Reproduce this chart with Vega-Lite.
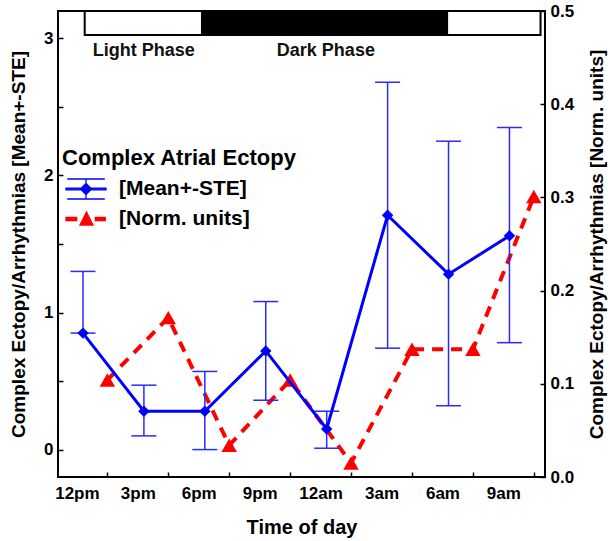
{
  "$schema": "https://vega.github.io/schema/vega-lite/v6.json",
  "width": 487,
  "height": 466,
  "autosize": {"type": "none"},
  "padding": {"left": 58, "top": 11, "right": 65, "bottom": 64},
  "background": "white",
  "datasets": {
    "blue": [
      {"hour": 0.3, "mean": 0.85, "lo": 0.85, "hi": 1.30, "series": "[Mean+-STE]"},
      {"hour": 3.3, "mean": 0.28, "lo": 0.10, "hi": 0.47, "series": "[Mean+-STE]"},
      {"hour": 6.3, "mean": 0.28, "lo": 0.0, "hi": 0.57, "series": "[Mean+-STE]"},
      {"hour": 9.3, "mean": 0.72, "lo": 0.36, "hi": 1.08, "series": "[Mean+-STE]"},
      {"hour": 12.3, "mean": 0.15, "lo": 0.01, "hi": 0.28, "series": "[Mean+-STE]"},
      {"hour": 15.3, "mean": 1.71, "lo": 0.74, "hi": 2.68, "series": "[Mean+-STE]"},
      {"hour": 18.3, "mean": 1.28, "lo": 0.32, "hi": 2.25, "series": "[Mean+-STE]"},
      {"hour": 21.3, "mean": 1.56, "lo": 0.78, "hi": 2.35, "series": "[Mean+-STE]"}
    ],
    "red": [
      {"hour": 1.5, "value": 0.104, "series": "[Norm. units]"},
      {"hour": 4.5, "value": 0.171, "series": "[Norm. units]"},
      {"hour": 7.5, "value": 0.034, "series": "[Norm. units]"},
      {"hour": 10.5, "value": 0.104, "series": "[Norm. units]"},
      {"hour": 13.5, "value": 0.015, "series": "[Norm. units]"},
      {"hour": 16.5, "value": 0.137, "series": "[Norm. units]"},
      {"hour": 19.5, "value": 0.137, "series": "[Norm. units]"},
      {"hour": 22.5, "value": 0.301, "series": "[Norm. units]"}
    ],
    "phase": [
      {"start": 0.385, "end": 6.16, "phase": "light"},
      {"start": 6.16, "end": 18.23, "phase": "dark"},
      {"start": 18.23, "end": 22.83, "phase": "light"}
    ],
    "phaselabels": [
      {"hour": 3.29, "text": "Light Phase"},
      {"hour": 12.26, "text": "Dark Phase"}
    ]
  },
  "layer": [
    {
      "data": {"name": "red"},
      "layer": [
        {
          "mark": {"type": "line", "strokeWidth": 4, "strokeDash": [11, 8], "strokeCap": "butt"},
          "encoding": {
            "x": {
              "field": "hour", "type": "quantitative",
              "scale": {"domain": [-0.93, 23.05], "nice": false, "zero": false},
              "axis": {"orient": "top", "values": [1.5, 4.5, 7.5, 10.5, 13.5, 16.5, 19.5, 22.5], "labels": false, "title": null, "tickSize": -5}
            },
            "y": {
              "field": "value", "type": "quantitative",
              "scale": {"domain": [0, 0.5], "nice": false, "zero": false},
              "axis": {"orient": "right", "values": [0, 0.1, 0.2, 0.3, 0.4, 0.5], "format": ".1f", "title": "Complex Ectopy/Arrhythmias [Norm. units]", "titleAngle": 270, "labelPadding": 10, "titlePadding": 33}
            },
            "color": {
              "field": "series", "type": "nominal",
              "scale": {"domain": ["[Mean+-STE]", "[Norm. units]"], "range": ["#0000ff", "#ff0000"]},
              "legend": {
                "orient": "none", "legendX": 4, "legendY": 137,
                "title": "Complex Atrial Ectopy", "titleLimit": 400,
                "titleFont": "Liberation Sans", "titleFontSize": 22, "titleFontWeight": "bold", "titleColor": "#000", "titlePadding": 8,
                "labelFont": "Liberation Sans", "labelFontSize": 21, "labelFontWeight": "bold", "labelColor": "#000", "labelLimit": 400,
                "symbolSize": 400, "symbolOffset": 13, "labelOffset": 22, "rowPadding": 6,
                "encode": {
                  "symbols": {
                    "update": {
                      "shape": {"signal": "datum.value === '[Mean+-STE]' ? 'M-2,-0.08H2V0.08H-2ZM-1.88,-1H1.88M-1.88,1H1.88M0,-1V1M0,-0.55L0.55,0L0,0.55L-0.55,0Z' : 'M-2,-0.16H-0.93V0.16H-2ZM0.93,-0.16H1.93V0.16H0.93ZM0.05,-0.7L0.7,0.6H-0.6Z'"},
                      "fill": {"signal": "datum.value === '[Mean+-STE]' ? '#0000ff' : '#ff0000'"},
                      "stroke": {"signal": "datum.value === '[Mean+-STE]' ? '#0000ff' : '#ff0000'"},
                      "strokeWidth": {"value": 1.3},
                      "strokeDash": {"value": []},
                      "opacity": {"value": 1}
                    }
                  }
                }
              }
            }
          }
        },
        {
          "mark": {"type": "point", "shape": "triangle-up", "size": 240, "filled": true, "color": "#ff0000", "opacity": 1},
          "encoding": {
            "x": {"field": "hour", "type": "quantitative"},
            "y": {"field": "value", "type": "quantitative"}
          }
        }
      ]
    },
    {
      "layer": [
        {
          "data": {"name": "phase"},
          "mark": {"type": "rect", "stroke": "#000", "strokeWidth": 2},
          "encoding": {
            "x": {
              "field": "start", "type": "quantitative",
              "scale": {"domain": [-0.93, 23.05], "nice": false, "zero": false},
              "axis": {
                "orient": "bottom", "values": [1.5, 4.5, 7.5, 10.5, 13.5, 16.5, 19.5, 22.5],
                "labelExpr": "['12pm','3pm','6pm','9pm','12am','3am','6am','9am'][round((datum.value-1.5)/3)]",
                "labelOffset": -30.45, "labelPadding": 13, "tickSize": -5,
                "title": "Time of day", "titleFontSize": 20, "titlePadding": 16
              }
            },
            "x2": {"field": "end"},
            "y": {"datum": 3.025, "type": "quantitative",
              "scale": {"domain": [-0.2, 3.2], "nice": false, "zero": false},
              "axis": {
                "orient": "left", "values": [0, 0.5, 1, 1.5, 2, 2.5, 3], "format": ".0f",
                "labelExpr": "datum.value % 1 === 0 ? datum.label : ''",
                "labelPadding": 10, "title": "Complex Ectopy/Arrhythmias [Mean+-STE]", "titlePadding": 15
              }
            },
            "y2": {"datum": 3.2},
            "fill": {"field": "phase", "type": "nominal", "scale": {"domain": ["light", "dark"], "range": ["#ffffff", "#000000"]}, "legend": null}
          }
        },
        {
          "data": {"name": "phaselabels"},
          "mark": {"type": "text", "font": "Liberation Sans", "fontSize": 18, "fontWeight": "bold", "color": "#111", "align": "center", "baseline": "middle"},
          "encoding": {
            "x": {"field": "hour", "type": "quantitative"},
            "y": {"datum": 2.91, "type": "quantitative"},
            "text": {"field": "text"}
          }
        },
        {
          "data": {"name": "blue"},
          "mark": {"type": "rule", "color": "#2a2aff", "strokeWidth": 1.5},
          "encoding": {
            "x": {"field": "hour", "type": "quantitative"},
            "y": {"field": "lo", "type": "quantitative"},
            "y2": {"field": "hi"}
          }
        },
        {
          "data": {"name": "blue"},
          "mark": {"type": "tick", "orient": "horizontal", "color": "#2a2aff", "size": 25, "thickness": 1.5, "opacity": 1},
          "encoding": {
            "x": {"field": "hour", "type": "quantitative"},
            "y": {"field": "lo", "type": "quantitative"}
          }
        },
        {
          "data": {"name": "blue"},
          "mark": {"type": "tick", "orient": "horizontal", "color": "#2a2aff", "size": 25, "thickness": 1.5, "opacity": 1},
          "encoding": {
            "x": {"field": "hour", "type": "quantitative"},
            "y": {"field": "hi", "type": "quantitative"}
          }
        },
        {
          "data": {"name": "blue"},
          "mark": {"type": "line", "strokeWidth": 3},
          "encoding": {
            "x": {"field": "hour", "type": "quantitative"},
            "y": {"field": "mean", "type": "quantitative"},
            "color": {"field": "series", "type": "nominal"}
          }
        },
        {
          "data": {"name": "blue"},
          "mark": {"type": "point", "shape": "diamond", "size": 130, "filled": true, "color": "#0000ff", "opacity": 1},
          "encoding": {
            "x": {"field": "hour", "type": "quantitative"},
            "y": {"field": "mean", "type": "quantitative"}
          }
        }
      ]
    }
  ],
  "resolve": {"scale": {"y": "independent"}, "axis": {"x": "independent"}},
  "config": {
    "font": "Liberation Sans",
    "view": {"stroke": "#000", "strokeWidth": 2},
    "axis": {
      "grid": false, "domain": false,
      "tickColor": "#000", "tickWidth": 1.5, "tickSize": -5,
      "labelFont": "Liberation Sans", "labelFontSize": 17, "labelFontWeight": "bold", "labelColor": "#000",
      "titleFont": "Liberation Sans", "titleFontSize": 19, "titleFontWeight": "bold", "titleColor": "#000"
    }
  }
}
